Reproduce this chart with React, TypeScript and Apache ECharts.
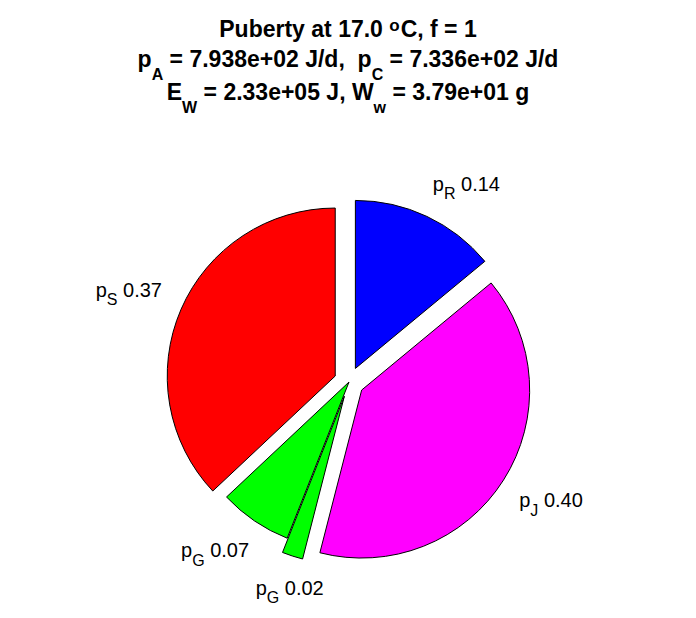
import React, { useEffect, useRef } from "react";
import * as echarts from "echarts";

const sliceNames = ["S", "G07", "G02", "J", "R"];
const sliceSubs = ["S", "G", "G", "J", "R"];
const sliceValues = [0.37, 0.07, 0.02, 0.4, 0.14];
const sliceColors = ["#ff0000", "#00ff00", "#00ff00", "#ff00ff", "#0000ff"];
const sliceExploded = [true, false, true, true, true];
const labelAligns = ["right", "right", "center", "left", "left"];
const labelVAligns = ["bottom", "top", "top", "top", "bottom"];
const labelDx = [-2, 5, 3, 0, -2];
const labelDy = [0, 4, 4, 0, -4];

const titleLines = [
  "{b|Puberty at 17.0 }{sup|o}{b|C, f = 1}",
  "{b|p}{sub|A}{b| = 7.938e+02 J/d,  p}{sub|C}{b| = 7.336e+02 J/d}",
  "{b|E}{sub|W}{b| = 2.33e+05 J, W}{sub|w}{b| = 3.79e+01 g}",
];
const titleTops = [17, 47, 80];

const FONT = "'Liberation Sans', Arial, Helvetica, sans-serif";

const titleRich = {
  b: { fontSize: 23, fontWeight: "bold", fontFamily: FONT, color: "#000", lineHeight: 24, verticalAlign: "top" },
  sub: { fontSize: 16, fontWeight: "bold", fontFamily: FONT, color: "#000", lineHeight: 16, padding: [19, 0, 0, 0], verticalAlign: "top" },
  sup: { fontSize: 17, fontWeight: "bold", fontFamily: FONT, color: "#000", lineHeight: 10, padding: [0, 1, 0, 0], verticalAlign: "top" },
};

export default function App() {
  const ref = useRef<HTMLDivElement>(null);
  useEffect(() => {
    if (!ref.current) return;
    const chart = echarts.init(ref.current, undefined, { renderer: "svg" });
    chart.setOption({
      animation: false,
      backgroundColor: "#ffffff",
      title: titleLines.map((t, i) => ({
        text: t,
        left: "center",
        top: titleTops[i],
        padding: 0,
        textStyle: { fontFamily: FONT, color: "#000", rich: titleRich },
      })),
      series: [
        {
          type: "pie",
          center: [349, 382],
          radius: [0, 168],
          startAngle: 90,
          clockwise: false,
          selectedMode: "multiple",
          selectedOffset: 15,
          avoidLabelOverlap: false,
          emphasis: { disabled: true },
          itemStyle: { borderColor: "#000", borderWidth: 1 },
          labelLine: { show: false, length: 18.6, length2: 0 },
          label: {
            show: true,
            position: "outside",
            alignTo: "none",
            distanceToLabelLine: 0,
            fontFamily: FONT,
            formatter: (p: any) => `{p|p}{s|${sliceSubs[p.dataIndex]}}{p| ${Number(p.value).toFixed(2)}}`,
            rich: {
              p: { fontSize: 20, fontFamily: FONT, color: "#000", lineHeight: 22, verticalAlign: "top" },
              s: { fontSize: 16, fontFamily: FONT, color: "#000", lineHeight: 16, padding: [12, 0, 0, 0], verticalAlign: "top" },
            },
          },
          labelLayout: (params: any) => ({
            align: labelAligns[params.dataIndex],
            verticalAlign: labelVAligns[params.dataIndex],
            dx: labelDx[params.dataIndex],
            dy: labelDy[params.dataIndex],
          }),
          data: sliceNames.map((n, i) => ({
            name: n,
            value: sliceValues[i],
            selected: sliceExploded[i],
            itemStyle: { color: sliceColors[i] },
          })),
        },
      ],
    });
    return () => chart.dispose();
  }, []);
  return (
    <div
      ref={ref}
      style={{ position: "fixed", left: 0, top: 0, width: 696, height: 618, background: "#fff" }}
    />
  );
}
